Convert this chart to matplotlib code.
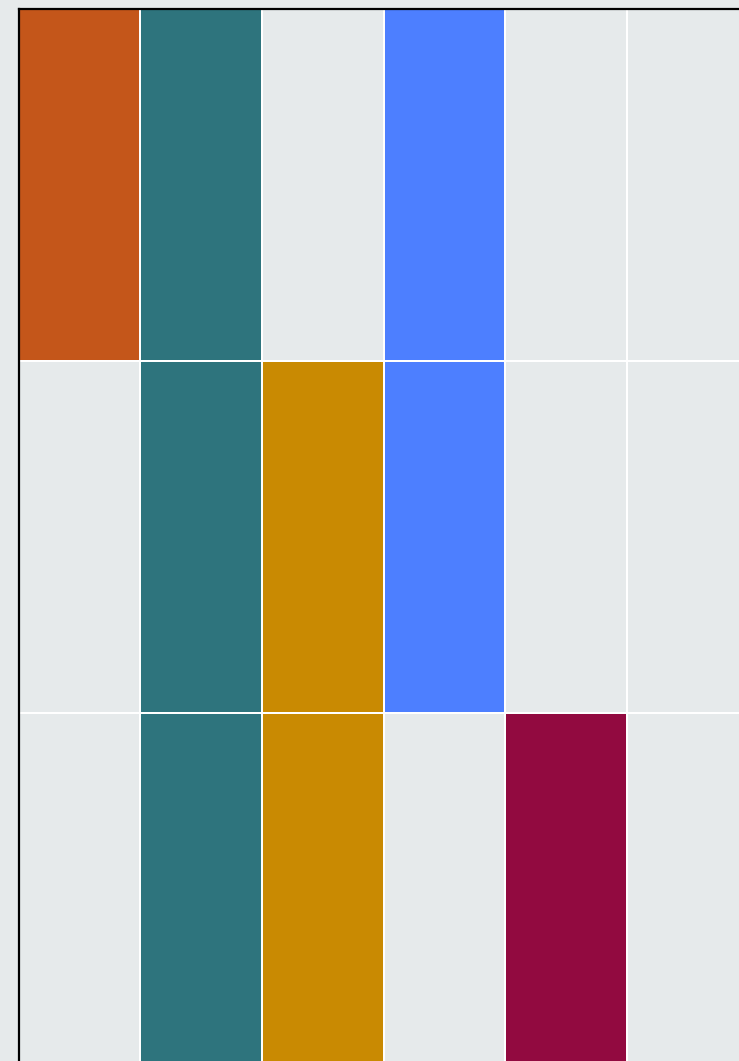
import numpy as np
import matplotlib
matplotlib.use("Agg")
import matplotlib.pyplot as plt
from matplotlib.colors import ListedColormap, BoundaryNorm

# Grid of presence: rows top to bottom, columns left to right
presence = [
    [1, 1, 0, 1, 0, 0],
    [0, 1, 1, 1, 0, 0],
    [0, 1, 1, 0, 1, 0],
]
column_colors = ["#c4561a", "#2e747d", "#c98a02", "#4d7fff", "#920a40", "#7a7a7a"]
bg = "#e6eaeb"

presence = np.array(presence)
n_rows, n_cols = presence.shape

# Encode each cell as 0 (empty) or column index + 1
codes = np.where(presence == 1, np.arange(n_cols)[None, :] + 1, 0)
cmap = ListedColormap([bg] + column_colors)
norm = BoundaryNorm(np.arange(-0.5, n_cols + 1.5), cmap.N)

fig = plt.figure(figsize=(7.39, 10.61), dpi=100)
fig.patch.set_facecolor(bg)

W, H = 739, 1061
ax = fig.add_axes([18.8 / W, -4 / H, 730 / W, 1056 / H])
ax.set_facecolor(bg)
ax.pcolormesh(codes, cmap=cmap, norm=norm, edgecolors="white", linewidth=1.3)
ax.set_xlim(0, n_cols)
ax.set_ylim(n_rows, 0)
ax.set_xticks([])
ax.set_yticks([])

for side in ["right", "bottom"]:
    ax.spines[side].set_visible(False)
for side in ["left", "top"]:
    ax.spines[side].set_color("black")
    ax.spines[side].set_linewidth(1.6)
    ax.spines[side].set_zorder(5)

fig.savefig("out.png", dpi=100, facecolor=bg)
